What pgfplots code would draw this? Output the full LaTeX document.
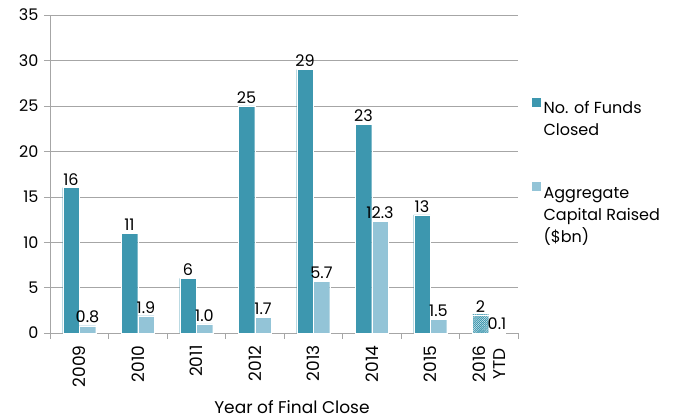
\documentclass[border=0pt]{standalone}
\usepackage{pgfplots}
\pgfplotsset{compat=1.18}
\usepackage{fontspec}
\setmainfont{Poppins}
\usetikzlibrary{patterns.meta}
\definecolor{dteal}{HTML}{3D97AF}
\definecolor{lteal}{HTML}{93C4D7}
\definecolor{gridc}{HTML}{A6A6A6}
\begin{document}
\begin{tikzpicture}
\useasboundingbox (-50pt,-86pt) rectangle (632pt,333pt);
\begin{axis}[
  at={(0pt,0pt)}, anchor=south west,
  scale only axis,
  width=468pt, height=318pt,
  /pgf/number format/assume math mode=true,
  xmin=-0.5, xmax=7.5, ymin=0, ymax=35,
  ytick={0,5,...,35},
  xtick={0,...,7},
  xticklabels={2009,2010,2011,2012,2013,2014,2015,{2016\\YTD}},
  x tick label style={rotate=90, anchor=east, align=center, font=\fontsize{17}{20}\selectfont, xshift=-3pt},
  y tick label style={font=\fontsize{16}{18}\selectfont, xshift=-2pt},
  minor xtick={-0.5,0.5,...,7.5},
  major tick length=6pt,
  minor tick length=6pt,
  tick align=outside,
  x tick style={draw=none},
  minor x tick style={draw=gridc},
  y tick style={draw=gridc},
  axis x line*=bottom, axis y line*=left,
  axis line style={draw=gridc, -},
  ymajorgrids, grid style={gridc},
  xlabel={Year of Final Close},
  xlabel style={font=\fontsize{17}{20}\selectfont, at={(axis description cs:0.517,0)}, anchor=center, inner sep=0pt, yshift=-74pt},
  ybar, bar width=16.5pt,
  nodes near coords,
  every node near coord/.append style={font=\fontsize{16}{18}\selectfont, text=black, yshift=-1pt},
  clip=false,
  legend style={at={(1.0,0.745)}, xshift=13pt, anchor=north west, draw=none, fill=none,
    font=\fontsize{16}{22}\selectfont, row sep=64pt, inner sep=0pt,
    nodes={inner sep=2pt}},
  legend cell align=left,
  legend image code/.code={\fill[#1] (0pt,0pt) rectangle (10pt,10pt);},
]
\addplot[fill=dteal, draw=white, bar shift=-8.25pt] coordinates {(0,16) (1,11) (2,6) (3,25) (4,29) (5,23) (6,13)};
\addlegendentry{\begin{tabular}[t]{@{}l@{}}No. of Funds\\Closed\end{tabular}}
\addplot[fill=lteal, draw=white, bar shift=8.25pt,
  nodes near coords={\pgfmathprintnumber[fixed,fixed zerofill,precision=1]{\pgfplotspointmeta}}]
  coordinates {(0,0.8) (1,1.9) (2,1.0) (3,1.7) (4,5.7) (5,12.3) (6,1.5)};
\addlegendentry{\begin{tabular}[t]{@{}l@{}}Aggregate\\Capital Raised\\(\$bn)\end{tabular}}
\addplot[draw=white, bar shift=-8.25pt, forget plot,
  pattern={Lines[angle=45, distance=1.5pt, line width=1pt]}, pattern color=dteal]
  coordinates {(7,2)};
\addplot[draw=white, bar shift=8.25pt, forget plot,
  pattern={Lines[angle=45, distance=1.5pt, line width=1pt]}, pattern color=lteal,
  nodes near coords={\pgfmathprintnumber[fixed,fixed zerofill,precision=1]{\pgfplotspointmeta}}]
  coordinates {(7,0.1)};
\end{axis}
\end{tikzpicture}
\end{document}
